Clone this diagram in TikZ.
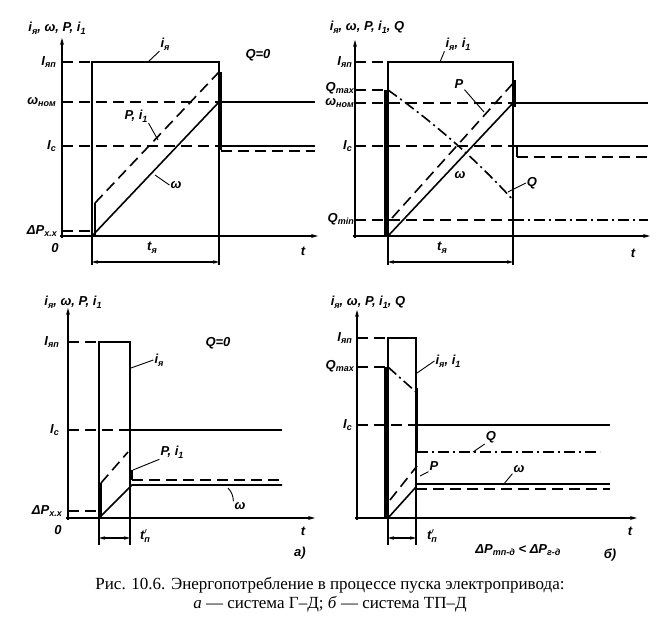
\documentclass[tikz,border=0pt]{standalone}
\usepackage{fontspec}
\setmainfont{Liberation Serif}
\newfontfamily\labfont{Liberation Sans}
\usetikzlibrary{arrows.meta}
\newcommand\lsub[1]{\raisebox{-0.4ex}{\fontsize{9}{9}\selectfont#1}}
\tikzset{
 ln/.style={line width=1.6pt},
 ax/.style={line width=1.4pt,-{Stealth[length=7pt,width=4pt]}},
 dsh/.style={line width=1.6pt,dash pattern=on 11pt off 6pt},
 dd/.style={line width=1.6pt,dash pattern=on 11pt off 4pt on 2pt off 4pt},
 bar/.style={line width=3pt},
 lbl/.style={font=\labfont\itshape\bfseries\fontsize{13}{13}\selectfont, inner sep=1pt},
 ldr/.style={line width=0.9pt},
 dimln/.style={line width=1.2pt,{Stealth[length=6pt,width=3.5pt]}-{Stealth[length=6pt,width=3.5pt]}},
 captxt/.style={font=\rmfamily\fontsize{17}{19}\selectfont, inner sep=0pt},
}
\begin{document}
\begin{tikzpicture}[x=1pt,y=-1pt]
\useasboundingbox (0,0) rectangle (661,626);
% ================= panel a top =================
\draw[ax] (62,238) -- (62,38);
\draw[ax] (60,236) -- (318,236);
\node[lbl] (aty) at (57,28) {i\lsub{я}, ω, P, i\lsub{1}};
\node[lbl,anchor=east] (aIp) at (57,62) {I\lsub{яп}};
\node[lbl,anchor=east] (aw) at (57,102) {ω\lsub{ном}};
\node[lbl,anchor=east] (aIc) at (57,146) {I\lsub{c}};
\node[lbl,anchor=east] (aP) at (58,231) {ΔP\lsub{х.х}};
\node[lbl] (a0) at (55,248) {0};
\node[lbl] (at) at (303,251) {t};
\draw[ln] (92,265) -- (92,62) -- (219,62) -- (219,265);
\draw[dsh] (62,62) -- (92,62);
\draw[dsh] (62,102) -- (219,102);
\draw[ln] (219,102) -- (315,102);
\draw[dsh] (62,146) -- (219,146);
\draw[bar] (220,72) -- (220,150);
\draw[ln] (221,146) -- (315,146);
\draw[dsh] (221,151) -- (315,151);
\draw[ln] (92,236) -- (219,102);
\draw[ln] (95,236) -- (95,203);
\draw[dsh] (95,203) -- (219,72);
\draw[dsh] (62,231) -- (92,231);
\draw[dimln] (92,262) -- (219,262);
\node[lbl] (atn) at (152,248) {t\lsub{я}};
\node[lbl] (aij) at (165,44) {i\lsub{я}};
\coordinate (aijp) at (148,62);
\draw[ldr] (aijp) -- (aij.south west);
\node[lbl] (aQ) at (258,55) {Q=0};
\node[lbl] (api) at (136,116) {P, i\lsub{1}};
\coordinate (apip) at (158,140);
\draw[ldr] (api.south east) -- (apip);
\node[lbl] (aom) at (176,185) {ω};
\coordinate (aomp) at (155,175);
\draw[ldr] (aomp) -- (aom.west);
% ================= panel b top =================
\draw[ax] (355,238) -- (355,40);
\draw[ax] (353,236) -- (650,236);
\node[lbl] (bty) at (367,27) {i\lsub{я}, ω, P, i\lsub{1}, Q};
\node[lbl,anchor=east] (bIp) at (353,62) {I\lsub{яп}};
\node[lbl,anchor=east] (bQx) at (355,88) {Q\lsub{max}};
\node[lbl,anchor=east] (bw) at (355,103) {ω\lsub{ном}};
\node[lbl,anchor=east] (bIc) at (353,146) {I\lsub{c}};
\node[lbl,anchor=east] (bQn) at (355,219) {Q\lsub{min}};
\node[lbl] (bt) at (633,253) {t};
\draw[ln] (388,265) -- (388,62) -- (513,62) -- (513,265);
\draw[dsh] (355,62) -- (388,62);
\draw[dsh] (355,90) -- (385,90);
\draw[dsh] (355,103) -- (513,103);
\draw[dsh] (355,146) -- (513,146);
\draw[dsh] (355,220) -- (513,220);
\draw[dd] (513,220) -- (648,220);
\draw[bar] (385,90) -- (385,236);
\draw[dd] (388,90) .. controls (430,120) and (472,155) .. (513,200);
\draw[ln] (388,236) -- (513,103);
\draw[ln] (513,103) -- (648,103);
\draw[dsh] (392,218) -- (516,80);
\draw[bar] (514,80) -- (514,107);
\draw[ln] (513,146) -- (648,146);
\draw[ln] (517,146) -- (517,157);
\draw[dsh] (517,157) -- (648,157);
\draw[dimln] (388,262) -- (513,262);
\node[lbl] (btn) at (442,248) {t\lsub{я}};
\node[lbl] (bij) at (458,44) {i\lsub{я}, i\lsub{1}};
\coordinate (bijp) at (440,62);
\draw[ldr] (bijp) -- (bij.south west);
\node[lbl] (bP) at (459,84) {P};
\coordinate (bPp) at (484,112);
\draw[ldr] (bP.south east) -- (bPp);
\node[lbl] (bom) at (460,175) {ω};
\node[lbl] (bQ) at (532,183) {Q};
\coordinate (bQp) at (508,192);
\draw[ldr] (bQp) -- (bQ.west);
% ================= panel a bottom =================
\draw[ax] (68,520) -- (68,308);
\draw[ax] (66,518) -- (315,518);
\node[lbl] (cty) at (73,302) {i\lsub{я}, ω, P, i\lsub{1}};
\node[lbl,anchor=east] (cIp) at (60,342) {I\lsub{яп}};
\node[lbl,anchor=east] (cIc) at (60,430) {I\lsub{c}};
\node[lbl,anchor=east] (cP) at (63,511) {ΔP\lsub{х.х}};
\node[lbl] (c0) at (58,530) {0};
\node[lbl] (ct) at (303,531) {t};
\node[lbl] (ca) at (300,553) {a)};
\draw[ln] (99,545) -- (99,342) -- (130,342) -- (130,545);
\draw[dsh] (68,342) -- (99,342);
\draw[dsh] (68,430) -- (130,430);
\draw[ln] (130,430) -- (282,430);
\draw[dsh] (68,511) -- (99,511);
\draw[ln] (101,518) -- (101,483);
\draw[dsh] (101,483) -- (128,452);
\draw[ln] (132,470) -- (132,480);
\draw[dsh] (132,480) -- (282,480);
\draw[ln] (99,518) -- (132,485) -- (282,485);
\draw[dimln] (99,538) -- (130,538);
\node[lbl] (ctn) at (145,536) {t\rlap{$'$}\lsub{п}};
\node[lbl] (cQ) at (218,343) {Q=0};
\node[lbl] (cij) at (159,360) {i\lsub{я}};
\coordinate (cijp) at (131,368);
\draw[ldr] (cijp) -- (cij.west);
\node[lbl] (cpi) at (172,452) {P, i\lsub{1}};
\coordinate (cpip) at (133,470);
\draw[ldr] (cpip) -- (cpi.south west);
\node[lbl] (com) at (240,506) {ω};
\coordinate (comp) at (228,488);
\draw[ldr] (comp) to[bend left=20] (com.north west);
% ================= panel b bottom =================
\draw[ax] (357,520) -- (357,310);
\draw[ax] (355,518) -- (637,518);
\node[lbl] (dty) at (368,302) {i\lsub{я}, ω, P, i\lsub{1}, Q};
\node[lbl,anchor=east] (dIp) at (353,338) {I\lsub{яп}};
\node[lbl,anchor=east] (dQx) at (355,366) {Q\lsub{max}};
\node[lbl,anchor=east] (dIc) at (353,425) {I\lsub{c}};
\node[lbl] (dt) at (630,531) {t};
\node[lbl] (db) at (610,555) {б)};
\draw[ln] (388,545) -- (388,338) -- (416,338) -- (416,545);
\draw[dsh] (357,338) -- (388,338);
\draw[dsh] (357,367) -- (385,367);
\draw[bar] (385,367) -- (385,518);
\draw[dd] (388,367) -- (416,392);
\draw[bar] (416,388) -- (416,425);
\draw[dsh] (357,425) -- (416,425);
\draw[ln] (416,425) -- (610,425);
\draw[ln] (417,425) -- (417,452);
\draw[dd] (417,452) -- (600,452);
\draw[dsh] (390,500) -- (417,466);
\draw[ln] (388,518) -- (416,487);
\draw[ln] (416,484) -- (610,484);
\draw[dsh] (416,489) -- (610,489);
\draw[dimln] (388,538) -- (416,538);
\node[lbl] (dtn) at (432,536) {t\rlap{$'$}\lsub{п}};
\node[lbl] (dij) at (448,361) {i\lsub{я}, i\lsub{1}};
\coordinate (dijp) at (417,373);
\draw[ldr] (dijp) -- (dij.west);
\node[lbl] (dQ) at (491,437) {Q};
\coordinate (dQp) at (473,452);
\draw[ldr] (dQp) -- (dQ.south west);
\node[lbl] (dP) at (434,466) {P};
\coordinate (dPp) at (420,476);
\draw[ldr] (dPp) -- (dP.south west);
\node[lbl] (dom) at (519,469) {ω};
\coordinate (domp) at (503,485);
\draw[ldr] (domp) -- (dom.south west);
\node[lbl] (dlt) at (518,550) {ΔP\lsub{тп-д} < ΔP\lsub{г-д}};
% ================= caption =================
\node[captxt] (cap1) at (330,585) {Рис. 10.6. Энергопотребление в процессе пуска электропривода:};
\node[captxt] (cap2) at (330,604) {\textit{а} — система Г–Д; \textit{б} — система ТП–Д};
\end{tikzpicture}
\end{document}
